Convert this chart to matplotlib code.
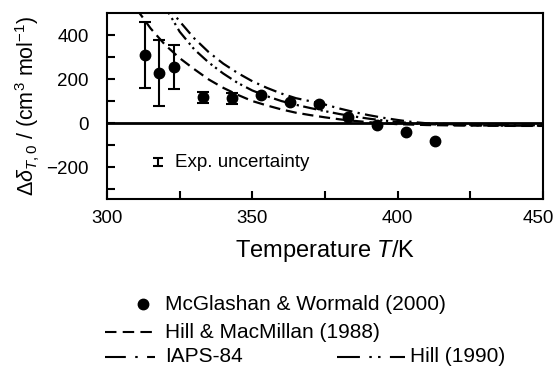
import numpy as np
import matplotlib
matplotlib.use("Agg")
import matplotlib.pyplot as plt
import matplotlib.transforms as mtransforms
from matplotlib.lines import Line2D

plt.rcParams['font.family'] = ['Liberation Sans', 'DejaVu Sans']
plt.rcParams['mathtext.fontset'] = 'custom'
plt.rcParams['mathtext.rm'] = 'Liberation Sans'
plt.rcParams['mathtext.it'] = 'Liberation Sans:italic'
plt.rcParams['mathtext.bf'] = 'Liberation Sans:bold'

# Experimental values (McGlashan & Wormald 2000)
T_exp = [313, 318, 323, 333, 343, 353, 363, 373, 383, 393, 403, 413]
d_exp = [309, 226, 254, 118, 113, 127, 97, 88, 28, -8, -42, -81]
err_exp = [150, 150, 100, 25, 25, np.nan, np.nan, np.nan, np.nan, np.nan, np.nan, np.nan]

# Hill & MacMillan (1988)
T_hm = [310, 312, 315, 317, 320, 325, 330, 335, 340, 345, 350, 355, 360, 365,
        370, 375, 380, 385, 390, 395, 400, 410, 420, 430, 440, 450]
d_hm = [520, 485, 430, 400, 355, 295, 245, 198, 160, 128, 100, 80, 62, 47,
        36, 26, 17, 10, 4, -1, -5, -9, -11, -12, -13, -13]

# IAPS-84
T_iaps = [320, 323, 325, 330, 335, 340, 345, 350, 355, 360, 365, 370, 375,
          380, 385, 390, 395, 400, 405, 410, 420, 430, 440, 450]
d_iaps = [545, 495, 462, 385, 322, 270, 227, 190, 160, 134, 113, 99, 84,
          66, 50, 36, 24, 14, 5, -1, -6, -9, -10, -10]

# Hill (1990)
T_hill = [319, 321.7, 325, 330, 335, 340, 345, 350, 355, 360, 365, 370, 375,
          380, 385, 390, 395, 400, 405, 410, 420, 430, 440, 450]
d_hill = [545, 490, 415, 335, 275, 225, 182, 148, 122, 100, 83, 68, 54,
          41, 30, 20, 12, 5, -1, -5, -9, -11, -12, -12]

# Experimental uncertainty marker
T_unc = [317.5]
d_unc = [-177]
err_unc = [17]

xticks_major = [300, 350, 400, 450]
yticks_major = [-200, 0, 200, 400]

W, H = 556, 371
fig = plt.figure(figsize=(W / 100, H / 100), dpi=100)
ax = fig.add_axes([107 / W, 1 - 199 / H, (543 - 107) / W, (199 - 13) / H])

lw = 1.6
ax.axhline(0, color='black', lw=2.0, zorder=2)
ax.plot(T_hm, d_hm, color='black', lw=lw, dashes=(5.0, 2.6), zorder=3)
ax.plot(T_iaps, d_iaps, color='black', lw=lw, dashes=(6.0, 2.4, 1.0, 2.4), zorder=3)
ax.plot(T_hill, d_hill, color='black', lw=lw,
        dashes=(6.0, 2.0, 1.0, 1.6, 1.0, 2.0), zorder=3)
ax.errorbar(T_exp, d_exp, yerr=err_exp, fmt='o', color='black', ms=7.5,
            elinewidth=1.5, capsize=4, capthick=1.5, zorder=4)
ax.errorbar(T_unc, d_unc, yerr=err_unc, fmt='none', ecolor='black',
            elinewidth=1.5, capsize=3.5, capthick=1.5)
ax.text(323.5, -177, 'Exp. uncertainty', fontsize=13.5, va='center', ha='left')

ax.set_xlim(300, 450)
ax.set_ylim(-345, 500)
ax.set_xticks(xticks_major)
ax.set_xticks([325, 375, 425], minor=True)
ax.set_yticks(yticks_major)
ax.set_yticks([-300, -100, 100, 300], minor=True)
ax.tick_params(which='both', direction='in', width=1.5, labelsize=13.5)
ax.tick_params(which='major', length=6)
ax.tick_params(which='minor', length=6)
ax.tick_params(axis='y', pad=13)
ax.tick_params(axis='x', pad=8)
ax.set_yticklabels(['\u2212200', '0', '200', '400'])
for s in ax.spines.values():
    s.set_linewidth(1.5)

# keep the last x tick label inside the figure edge
last = ax.get_xticklabels()[-1]
last.set_transform(last.get_transform() +
                   mtransforms.ScaledTranslation(-5 / 100, 0, fig.dpi_scale_trans))

ax.set_xlabel(r'Temperature $\mathit{T}$/K', fontsize=17, labelpad=8)
ax.set_ylabel(r'$\Delta\delta_{T,0}$ / (cm$^3$ mol$^{-1}$)', fontsize=15.5)
ax.yaxis.set_label_coords(-0.15, 0.5)

# Legend drawn below the axes in figure pixel coordinates
def px(x, y):
    return x / W, 1 - y / H

def legend_line(x0, x1, y, **kw):
    (a, b), (c, d) = px(x0, y), px(x1, y)
    fig.add_artist(Line2D([a, c], [b, d], color='black', lw=1.5, **kw))

fs_leg = 15
mx, my = px(143, 304)
fig.add_artist(Line2D([mx], [my], marker='o', ms=7.5, color='black', ls='none'))
fig.text(*px(165, 304), 'McGlashan & Wormald (2000)', fontsize=fs_leg, va='center')
legend_line(105, 155, 332, dashes=(5.5, 3.0))
fig.text(*px(165, 332), 'Hill & MacMillan (1988)', fontsize=fs_leg, va='center')
legend_line(105, 155, 357, dashes=(10, 4.5, 1.2, 4.5))
fig.text(*px(165, 357), 'IAPS-84', fontsize=fs_leg, va='center')
legend_line(337, 405, 357, dashes=(11, 4.5, 1.2, 3.0, 1.2, 4.5))
fig.text(*px(410, 357), 'Hill (1990)', fontsize=fs_leg, va='center')

fig.savefig('out.png', dpi=100)
